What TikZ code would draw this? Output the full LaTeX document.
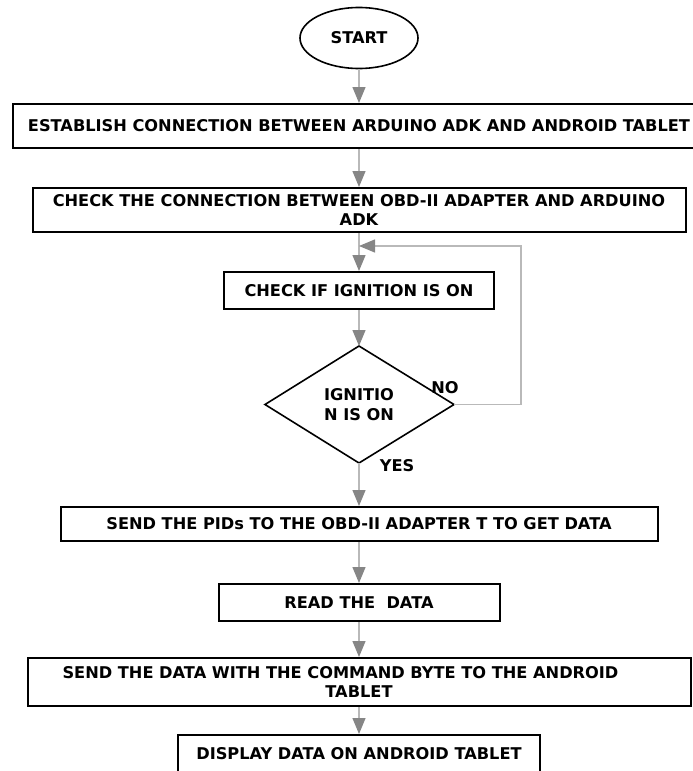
\documentclass[tikz,border=0pt]{standalone}
\usepackage{fontspec}
\setmainfont{DejaVu Sans}
\usetikzlibrary{arrows.meta,shapes.geometric}
\tikzset{
  box/.style={draw=black,line width=2pt,fill=white,inner sep=0pt,align=center,font=\bfseries\fontsize{16.2}{19.5}\selectfont},
  conn/.style={draw=gray!55,line width=1.3pt,-{Triangle[length=16pt,width=13pt,color=gray!95]}},
  lbl/.style={font=\bfseries\fontsize{16.2}{19.5}\selectfont,inner sep=0pt}
}
\begin{document}
\begin{tikzpicture}[x=1pt,y=1pt]
\useasboundingbox (0,0) rectangle (693,-771);
\node[draw=black,line width=1.6pt,ellipse,minimum width=118pt,minimum height=61pt,inner sep=0pt,font=\bfseries\fontsize{16.2}{19.5}\selectfont] (start) at (359,-38) {START};
\node[box,minimum width=692pt,minimum height=44pt] (b1) at (359,-126) {ESTABLISH CONNECTION BETWEEN ARDUINO ADK AND ANDROID TABLET};
\node[box,minimum width=653pt,minimum height=44pt] (b2) at (359,-210) {CHECK THE CONNECTION BETWEEN OBD-II ADAPTER AND ARDUINO\\ADK};
\node[box,minimum width=270pt,minimum height=37pt] (b3) at (359,-290.5) {CHECK IF IGNITION IS ON};
\draw[black,line width=1.6pt,fill=white] (265,-404.5) coordinate (dW) -- (359,-346) coordinate (dN) -- (454,-404.5) coordinate (dE) -- (359,-463) coordinate (dS) -- cycle;
\node[lbl,align=center] (dtext) at (359,-404.5) {IGNITIO\\N IS ON};
\node[box,minimum width=597pt,minimum height=34pt] (b4) at (359,-524) {SEND THE PIDs TO THE OBD-II ADAPTER T TO GET DATA};
\node[box,minimum width=281pt,minimum height=37pt] (b5) at (359,-602.5) {READ THE\ \ DATA};
\node[box,minimum width=663pt,minimum height=48pt] (b6) at (359,-682) {SEND THE DATA WITH THE COMMAND BYTE TO THE ANDROID\hspace*{37pt}\\TABLET};
\node[box,minimum width=362pt,minimum height=42pt] (b7) at (359,-756) {};
\node[lbl] (b7t) at (359,-754) {DISPLAY DATA ON ANDROID TABLET};
\node[lbl] (no) at (445,-388) {NO};
\node[lbl] (yes) at (397,-466) {YES};
\coordinate (join) at (359,-246);
\coordinate (loopx) at (521,-246);
\draw[conn] (start.south) -- (b1.north);
\draw[conn] (b1.south) -- (b2.north);
\draw[conn] (b2.south) -- (b3.north);
\draw[conn] (b3.south) -- (dN);
\draw[conn] (dE) -| (loopx) -- (join);
\draw[conn] (dS) -- (b4.north);
\draw[conn] (b4.south) -- (b5.north);
\draw[conn] (b5.south) -- (b6.north);
\draw[conn] (b6.south) -- (b7.north);
\end{tikzpicture}
\end{document}
